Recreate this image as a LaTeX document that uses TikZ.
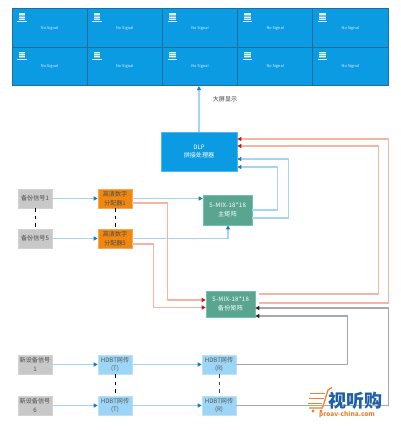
\documentclass[tikz,border=0pt]{standalone}
\usepackage{fontspec}
\setmainfont{Noto Sans CJK SC}
\usetikzlibrary{arrows.meta,calc}
\definecolor{wallc}{HTML}{0A9BE3}
\definecolor{walll}{HTML}{1F6E9C}
\definecolor{greenb}{HTML}{5AA58F}
\definecolor{greenl}{HTML}{73C2B0}
\definecolor{orangeb}{HTML}{F0880F}
\definecolor{orangel}{HTML}{F8A850}
\definecolor{grayb}{HTML}{C8C8C8}
\definecolor{hdbt}{HTML}{9CD5F5}
\definecolor{bluel}{HTML}{A3D7F0}
\definecolor{bluet}{HTML}{1A7CC6}
\definecolor{redl}{HTML}{F4B5A3}
\definecolor{redt}{HTML}{C8161D}
\definecolor{grayl}{HTML}{A8A8A8}
\definecolor{logob}{HTML}{1F5FA8}
\definecolor{logoo}{HTML}{EE7F2D}
\tikzset{
  x=1pt,y=-1pt,
  box/.style={draw,line width=.6pt,inner sep=0pt,align=center,font=\fontsize{6.1}{8.6}\selectfont,text width=#1},
  graybox/.style={box=34pt,fill=grayb,draw=grayb!80!white,text=black!70,minimum width=34pt,minimum height=19pt},
  orangebox/.style={box=34pt,fill=orangeb,draw=orangel,text=black!70,minimum width=34pt,minimum height=19pt},
  hdbtbox/.style={box=34pt,fill=hdbt,draw=hdbt!70!white,text=black!65,minimum width=34pt,minimum height=19pt},
  greenbox/.style={box=49pt,fill=greenb,draw=greenl,text=white,minimum width=49pt},
  dlpbox/.style={box=76pt,fill=wallc,draw=wallc!70!white,text=white,minimum width=76pt,minimum height=39pt},
  cell/.style={draw=walll,fill=wallc,line width=.7pt,minimum width=75.2pt,minimum height=38.5pt,inner sep=0pt,text=white!85!wallc,font=\fontsize{3.9}{5}\selectfont},
  bline/.style={draw=bluel,line width=1.2pt,-{Triangle[length=4pt,width=4pt,color=bluet]}},
  rline/.style={draw=redl,line width=1.2pt,-{Triangle[length=4pt,width=4pt,color=redt]}},
  gline/.style={draw=grayl,line width=1.2pt,-{Triangle[length=4pt,width=4pt,color=black!85]}},
  dashl/.style={draw=black,line width=1pt,dash pattern=on 3.5pt off 4pt},
  tag/.style={inner sep=0pt,font=\fontsize{6.1}{7}\selectfont,text=black!75},
}
\begin{document}
\begin{tikzpicture}
\useasboundingbox (0,0) rectangle (400,430);
\fill[white] (0,0) rectangle (400,430);
% video wall
\foreach \r/\yy in {1/28,2/66.5}{
  \foreach \c/\xx in {1/49.6,2/124.8,3/200,4/275.2,5/350.4}{
    \node[cell] (w\r\c) at (\xx,\yy) {No Signal};
    \fill[white!90!wallc] ($(w\r\c.north west)+(7,5)$) rectangle ++(6.5,6.5);
    \foreach \k in {1.6,3.2,4.8} \draw[wallc!60!white,line width=.25pt] ($(w\r\c.north west)+(7,5+\k)$) -- ++(6.5,0);
    \draw[white!90!wallc,line width=.6pt] ($(w\r\c.north west)+(5.5,12.8)$) -- ++(9.5,0);
  }
}
% nodes
\node[dlpbox] (dlp) at (199,151.5) {DLP\\拼接处理器};
\node[greenbox,minimum height=30pt] (main) at (227.5,210) {\addfontfeature{LetterSpace=4}S-MIX-18*18\\主矩阵};
\node[greenbox,minimum height=26pt] (bak) at (230.5,304) {\addfontfeature{LetterSpace=4}S-MIX-18*18\\备份矩阵};
\node[graybox] (s1) at (35,198.5) {备份信号1};
\node[graybox] (s5) at (35,238.5) {备份信号5};
\node[orangebox] (d1) at (115,198.5) {高清数字\\分配器1};
\node[orangebox] (d5) at (115,238.5) {高清数字\\分配器5};
\node[graybox] (n1) at (35,364.5) {新设备信号\\1};
\node[graybox] (n6) at (35,405.5) {新设备信号\\6};
\node[hdbtbox] (t1) at (115,364.5) {HDBT网传\\(T)};
\node[hdbtbox] (t6) at (115,405.5) {HDBT网传\\(T)};
\node[hdbtbox] (r1) at (219,364.5) {HDBT网传\\(R)};
\node[hdbtbox] (r6) at (219,405.5) {HDBT网传\\(R)};
\node[tag] (lbl) at (225,99) {大屏显示};
% connectors
\draw[bline] (dlp.north) -- (dlp.north |- w23.south);
\draw[bline] (s1) -- (d1);
\draw[bline] (s5) -- (d5);
\draw[bline] (n1) -- (t1);
\draw[bline] (n6) -- (t6);
\draw[bline] (d1.east) -- (main.west |- d1.east);
\draw[bline] (d5.east) -| ([xshift=.5pt]main.south);
\draw[bline] (main.east) -- ++(25,0) |- ([yshift=-15.5pt]dlp.east);
\draw[bline] ([yshift=-8pt]main.east) -- ++(36,0) |- ([yshift=-7.5pt]dlp.east);
\draw[rline] ([yshift=-4.5pt]d1.east) -- ++(35.5,0) |- ([yshift=4pt]bak.west);
\draw[rline] ([yshift=-5.5pt]d5.east) -- ++(21,0) |- ([yshift=-3.5pt]bak.west);
\draw[rline] ([xshift=3.5pt,yshift=10pt]bak.east) -- ++(119.5,0) |- ([yshift=5.5pt]dlp.east);
\draw[rline] ([xshift=3.5pt,yshift=1pt]bak.east) -- ++(129.5,0) |- ([yshift=12.5pt]dlp.east);
\draw[bline] (t1) -- (r1);
\draw[bline] (t6) -- (r6);
\draw[gline] (r1.east) -- ++(111,0) |- ([yshift=-12pt]bak.east);
\draw[gline] (r6.east) -- ++(152,0) |- ([yshift=-4pt]bak.east);
\draw[dashl] (s1) -- (s5);
\draw[dashl] (d1) -- (d5);
\draw[dashl] (t1) -- (t6);
\draw[dashl,draw=black!75] (r1) -- (r6);
% watermark
\draw[logoo,line width=1.5pt] (310,393.5) -- (325,393.5) (309,398.5) -- (323.5,398.5) (307.5,403.5) -- (322,403.5);
\draw[logoo,line width=1.2pt] (332,387.5) -- (328,390) -- (322.5,408) -- (309,408);
\fill[logoo] (313,411) circle (1.6pt) (321,411) circle (1.6pt);
\node[inner sep=0pt,anchor=west,text=logob,font=\fontsize{18}{18}\bfseries\selectfont] (logo) at (328,401) {视听购};
\node[inner sep=0pt,anchor=west,text=logoo,font=\fontsize{6.5}{7}\bfseries\selectfont] (url) at (319,414.5) {proav-china.com};
\end{tikzpicture}
\end{document}
